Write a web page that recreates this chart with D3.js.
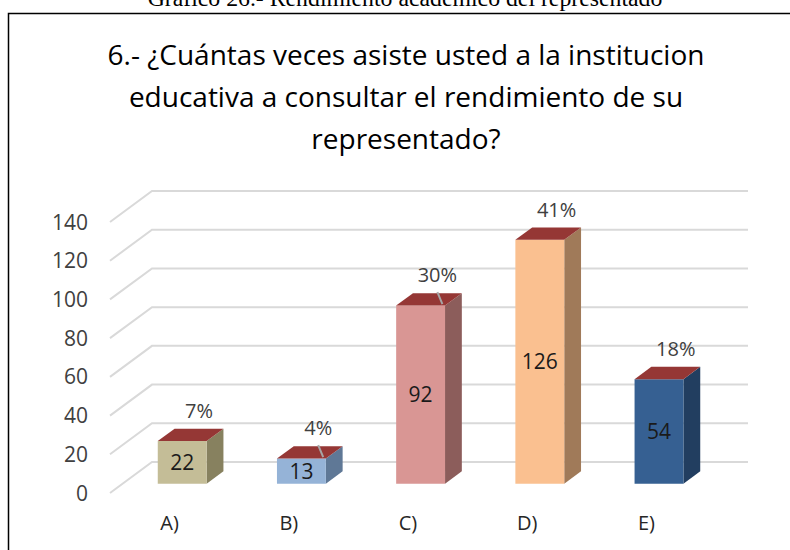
<!DOCTYPE html>
<html><head><meta charset="utf-8">
<script src="https://cdn.jsdelivr.net/npm/d3@7"></script>
<style>body{margin:0;background:#fff}svg{display:block}</style>
</head><body><svg id="c" width="790" height="550"></svg>
<script>
const categories = ["A)", "B)", "C)", "D)", "E)"];
const values = [22, 13, 92, 126, 54];
const percents = ["7%", "4%", "30%", "41%", "18%"];
const leader = [false, true, true, false, false];
const yTicks = [0, 20, 40, 60, 80, 100, 120, 140];
const titleLines = ["6.- ¿Cuántas veces asiste usted a la institucion", "educativa a consultar el rendimiento de su", "representado?"];
const caption = "Gráfico 26.- Rendimiento académico del representado";
const frontColors = ["#C4BD97", "#95B3D7", "#D99694", "#FAC090", "#366092"];
const sideColors = ["#87815F", "#5F7896", "#8C5D5B", "#A07A59", "#223E60"];
const topColor = "#953735";

const svg = d3.select("#c");
const FONT = "'Open Sans', sans-serif";

// caption (cut at top)
const cap = svg.append("text").attr("x", 405).attr("y", 6).attr("text-anchor", "middle")
  .attr("font-family", "'Liberation Serif', 'Times New Roman', serif").attr("font-size", 21)
  .attr("fill", "#000").text(caption);
// frame
svg.append("path").attr("d", "M8.5,560 L8.5,13.5 L800,13.5").attr("fill", "none")
  .attr("stroke", "#000").attr("stroke-width", 1.5);

// 3D projection
const DX = 42, DY = -31;
const y = d3.scaleLinear().domain([0, 140]).range([493, 222]);
const x = d3.scalePoint().domain(categories).range([110, 706]).padding(0.5);
const step = x.step();
const bw = step * 0.41;
const t0 = 0.3, t1 = 0.7;
const P = (px, v, t) => [px + DX * t, y(v) + DY * t];

// gridlines
const g = svg.append("g");
yTicks.forEach(v => {
  const a = P(110, v, 0), b = P(110, v, 1), c = P(706, v, 1);
  g.append("path").attr("d", `M${a}L${b}L${c}`).attr("fill", "none")
    .attr("stroke", "#D9D9D9").attr("stroke-width", 2);
});
// y tick labels
svg.append("g").selectAll("text").data(yTicks).join("text")
  .attr("x", 88).attr("y", d => y(d)).attr("dy", "0.36em").attr("text-anchor", "end")
  .attr("font-family", FONT).attr("font-size", 21).attr("fill", "#404040").text(d => d);

// bars
const bars = svg.append("g");
values.forEach((v, i) => {
  const cx = x(categories[i]);
  const xl = cx - bw / 2, xr = cx + bw / 2;
  const f = [P(xl, v, t0), P(xr, v, t0), P(xr, 0, t0), P(xl, 0, t0)];
  const s = [P(xr, v, t0), P(xr, v, t1), P(xr, 0, t1), P(xr, 0, t0)];
  const tp = [P(xl, v, t0), P(xl, v, t1), P(xr, v, t1), P(xr, v, t0)];
  const poly = pts => "M" + pts.join("L") + "Z";
  bars.append("path").attr("d", poly(s)).attr("fill", sideColors[i]);
  bars.append("path").attr("d", poly(f)).attr("fill", frontColors[i]);
  bars.append("path").attr("d", poly(tp)).attr("fill", topColor);
  // value label
  const mid = P(cx, v / 2, t0);
  bars.append("text").attr("x", mid[0]).attr("y", mid[1]).attr("dy", "0.36em")
    .attr("text-anchor", "middle").attr("font-family", FONT).attr("font-size", 21)
    .attr("fill", "#1a1a1a").text(v);
  // percent label
  const bt = P(cx, v, t1);
  if (leader[i]) {
    bars.append("line").attr("x1", bt[0]).attr("y1", bt[1] - 1)
      .attr("x2", bt[0] + 5).attr("y2", bt[1] + 11)
      .attr("stroke", "#A6A6A6").attr("stroke-width", 2);
  }
  bars.append("text").attr("x", bt[0]).attr("y", bt[1] - 18).attr("dy", "0.36em")
    .attr("text-anchor", "middle").attr("font-family", FONT).attr("font-size", 20)
    .attr("fill", "#404040").text(percents[i]);
});

// category labels
svg.append("g").selectAll("text").data(categories).join("text")
  .attr("x", d => x(d)).attr("y", 523).attr("dy", "0.36em").attr("text-anchor", "middle")
  .attr("font-family", FONT).attr("font-size", 20).attr("fill", "#262626").text(d => d);

// title
const tg = svg.append("g");
const tl = tg.selectAll("text").data(titleLines).join("text")
  .attr("x", 406).attr("y", (d, i) => 55 + i * 42).attr("dy", "0.36em")
  .attr("text-anchor", "middle").attr("font-family", FONT).attr("font-size", 24)
  .attr("fill", "#000").text(d => d);
const w0 = tl.nodes()[0].getComputedTextLength();
tl.attr("font-size", 24 * 597 / w0);
const cw = cap.node().getComputedTextLength();
cap.attr("font-size", 21 * 515 / cw);
</script></body></html>
